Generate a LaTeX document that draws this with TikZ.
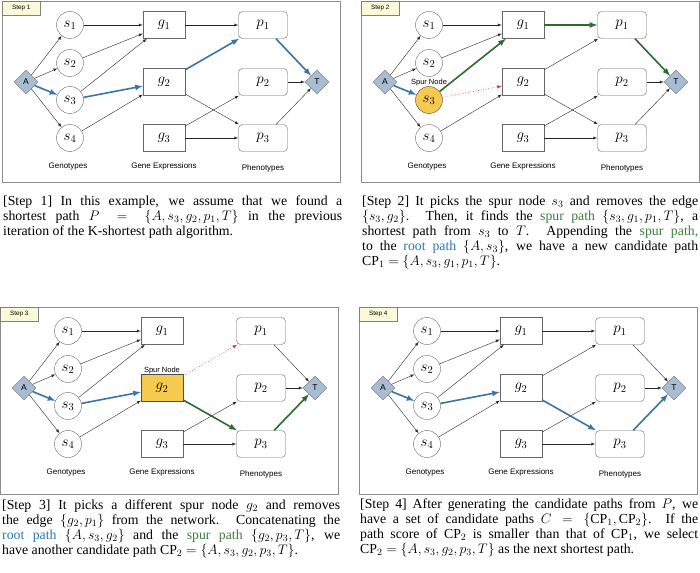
\RequirePackage{fix-cm}
\documentclass[tikz,border=0pt]{standalone}
\usepackage[]{amsmath}
\usepackage{fontspec}
\setmainfont{Liberation Serif}
\setsansfont{Liberation Sans}
\usepackage{tikz}
\usetikzlibrary{positioning,shapes.geometric}

\definecolor{rootblue}{HTML}{3A74A6}
\definecolor{spurgreen}{HTML}{2B6B2E}
\definecolor{cutred}{HTML}{C8323A}
\definecolor{spuryellow}{HTML}{F6C94F}
\definecolor{diamondblue}{HTML}{A8BCD2}
\definecolor{tagyellow}{HTML}{FCF9D8}
\definecolor{textblue}{HTML}{2A78B0}
\definecolor{textgreen}{HTML}{3B7F39}

\tikzset{
  geno/.style={circle, draw=black!60, minimum size=27pt, inner sep=0pt,
    font=\fontsize{15}{15}\selectfont},
  gexp/.style={rectangle, draw=black!60, minimum width=42pt, minimum height=27pt,
    inner sep=0pt, font=\fontsize{15}{15}\selectfont},
  pheno/.style={rectangle, rounded corners=4pt, draw=black!60, minimum width=49pt,
    minimum height=27pt, inner sep=0pt, font=\fontsize{15}{15}\selectfont},
  term/.style={diamond, draw=black!55, fill=diamondblue, minimum size=24pt,
    inner sep=0pt, font=\sffamily\fontsize{8.5}{9}\selectfont},
  spurnode/.style={fill=spuryellow, draw=black!70},
  tag/.style={draw=black!50, fill=tagyellow, anchor=north west, minimum width=38pt,
    minimum height=14pt, inner sep=0pt, font=\sffamily\fontsize{6.3}{7}\selectfont},
  layer/.style={font=\sffamily\fontsize{8}{9}\selectfont},
  spurtag/.style={inner sep=0.5pt, font=\sffamily\fontsize{7.5}{8}\selectfont},
  frame/.style={draw=black!45, line width=0.6pt},
  link/.style={-latex, draw=black!85, line width=0.4pt},
  rootpath/.style={-latex, draw=rootblue, line width=1.6pt},
  spurpath/.style={-latex, draw=spurgreen, line width=1.6pt},
  cutedge/.style={-latex, draw=cutred, dotted, line width=0.6pt},
  captext/.style={anchor=north west, text width=338pt, align=justify, inner sep=0pt,
    font=\fontsize{13.8}{15}\selectfont},
}

% nodes of one panel: #1 prefix, #2 extra style of s3, #3 extra style of g2
\newcommand{\netnodes}[3]{%
  \node[term] (#1A) at (26,82) {A};
  \node[geno] (#1s1) at (70,25) {$s_1$};
  \node[geno] (#1s2) at (70,63) {$s_2$};
  \node[geno,#2] (#1s3) at (70,100) {$s_3$};
  \node[geno] (#1s4) at (70,138) {$s_4$};
  \node[gexp] (#1g1) at (164,25) {$g_1$};
  \node[gexp,#3] (#1g2) at (164,82) {$g_2$};
  \node[gexp] (#1g3) at (164,138) {$g_3$};
  \node[pheno] (#1p1) at (263,25) {$p_1$};
  \node[pheno] (#1p2) at (263,82) {$p_2$};
  \node[pheno] (#1p3) at (263,138) {$p_3$};
  \node[term] (#1T) at (317,82) {T};
  \node[layer] (#1genolab) at (68,167) {Genotypes};
  \node[layer] (#1exprlab) at (164,166) {Gene Expressions};
  \node[layer] (#1phenlab) at (263,168) {Phenotypes};
}

\begin{document}
\begin{tikzpicture}[x=1pt, y=-1pt]
\useasboundingbox (0,0) rectangle (700,572);

% Step 1
\begin{scope}[shift={(0,0)}]
\draw[frame] (2,1) rectangle (340,182);
\node[tag] (tag1) at (2,1) {Step 1};
\netnodes{a}{}{}
\draw[link] (aA) -- (as1);
\draw[link] (aA) -- (as2);
\draw[link] (aA) -- (as4);
\draw[link] (as1) -- (ag1);
\draw[link] (as2) -- (ag1);
\draw[link] (as3) -- (ag1);
\draw[link] (as4) -- (ag2);
\draw[link] (ag1) -- (ap1);
\draw[link] (ag2) -- (ap3);
\draw[link] (ag3) -- (ap2);
\draw[link] (ag3) -- (ap3);
\draw[link] (ap2) -- (aT);
\draw[link] (ap3) -- (aT);
\draw[rootpath] (aA) -- (as3);
\draw[rootpath] (as3) -- (ag2);
\draw[rootpath] (ag2) -- (ap1);
\draw[rootpath] (ap1) -- (aT);
\end{scope}

% Step 2
\begin{scope}[shift={(359,0)}]
\draw[frame] (2,1) rectangle (340,182);
\node[tag] (tag2) at (2,1) {Step 2};
\netnodes{b}{spurnode}{}
\node[spurtag, above=0pt of bs3] (bspur) {Spur Node};
\draw[link] (bA) -- (bs1);
\draw[link] (bA) -- (bs2);
\draw[link] (bA) -- (bs4);
\draw[link] (bs1) -- (bg1);
\draw[link] (bs2) -- (bg1);
\draw[link] (bs4) -- (bg2);
\draw[link] (bg2) -- (bp1);
\draw[link] (bg2) -- (bp3);
\draw[link] (bg3) -- (bp2);
\draw[link] (bg3) -- (bp3);
\draw[link] (bp2) -- (bT);
\draw[link] (bp3) -- (bT);
\draw[cutedge] (bs3) -- (bg2);
\draw[rootpath] (bA) -- (bs3);
\draw[spurpath] (bs3) -- (bg1);
\draw[spurpath] (bg1) -- (bp1);
\draw[spurpath] (bp1) -- (bT);
\end{scope}

% Step 3
\begin{scope}[shift={(-2,306)}]
\draw[frame] (2,1) rectangle (340,188);
\node[tag] (tag3) at (2,1) {Step 3};
\netnodes{c}{}{spurnode}
\node[spurtag, above=0pt of cg2] (cspur) {Spur Node};
\draw[link] (cA) -- (cs1);
\draw[link] (cA) -- (cs2);
\draw[link] (cA) -- (cs4);
\draw[link] (cs1) -- (cg1);
\draw[link] (cs2) -- (cg1);
\draw[link] (cs3) -- (cg1);
\draw[link] (cs4) -- (cg2);
\draw[link] (cg3) -- (cp2);
\draw[link] (cg3) -- (cp3);
\draw[link] (cp1) -- (cT);
\draw[link] (cp2) -- (cT);
\draw[cutedge] (cg2) -- (cp1);
\draw[rootpath] (cA) -- (cs3);
\draw[rootpath] (cs3) -- (cg2);
\draw[spurpath] (cg2) -- (cp3);
\draw[spurpath] (cp3) -- (cT);
\end{scope}

% Step 4
\begin{scope}[shift={(357,306)}]
\draw[frame] (2,1) rectangle (340,188);
\node[tag] (tag4) at (2,1) {Step 4};
\netnodes{d}{}{}
\draw[link] (dA) -- (ds1);
\draw[link] (dA) -- (ds2);
\draw[link] (dA) -- (ds4);
\draw[link] (ds1) -- (dg1);
\draw[link] (ds2) -- (dg1);
\draw[link] (ds3) -- (dg1);
\draw[link] (ds4) -- (dg2);
\draw[link] (dg1) -- (dp1);
\draw[link] (dg2) -- (dp1);
\draw[link] (dg3) -- (dp2);
\draw[link] (dg3) -- (dp3);
\draw[link] (dp1) -- (dT);
\draw[link] (dp2) -- (dT);
\draw[rootpath] (dA) -- (ds3);
\draw[rootpath] (ds3) -- (dg2);
\draw[rootpath] (dg2) -- (dp3);
\draw[rootpath] (dp3) -- (dT);
\end{scope}

% captions
\node[captext, text width=339pt] (cap1) at (3,196) {[Step 1] In this example, we assume that we found a\linebreak
  shortest path $P=\{A,s_3,g_2,p_1,T\}$ in the previous\linebreak
  iteration of the K-shortest path algorithm.};
\node[captext, text width=336pt] (cap2) at (362,196) {[Step 2] It picks the spur node $s_3$ and removes the edge\linebreak
  $\{s_3,g_2\}$. Then, it finds the \textcolor{textgreen}{spur path} $\{s_3,g_1,p_1,T\}$, a\linebreak
  shortest path from $s_3$ to $T$. Appending the \textcolor{textgreen}{spur path,}\linebreak
  to the \textcolor{textblue}{root path} $\{A,s_3\}$, we have a new candidate path\linebreak
  $\mathrm{CP}_1=\{A,s_3,g_1,p_1,T\}$.};
\node[captext] (cap3) at (2,500) {[Step 3] It picks a different spur node $g_2$ and removes\linebreak
  the edge $\{g_2,p_1\}$ from the network. Concatenating the\linebreak
  \textcolor{textblue}{root path} $\{A,s_3,g_2\}$ and the \textcolor{textgreen}{spur path} $\{g_2,p_3,T\}$, we\linebreak
  have another candidate path $\mathrm{CP}_2=\{A,s_3,g_2,p_3,T\}$.};
\node[captext] (cap4) at (360,499) {[Step 4] After generating the candidate paths from $P$, we\linebreak
  have a set of candidate paths $C=\{\mathrm{CP}_1,\mathrm{CP}_2\}$. If the\linebreak
  path score of $\mathrm{CP}_2$ is smaller than that of $\mathrm{CP}_1$, we select\linebreak
  $\mathrm{CP}_2=\{A,s_3,g_2,p_3,T\}$ as the next shortest path.};

\end{tikzpicture}
\end{document}
